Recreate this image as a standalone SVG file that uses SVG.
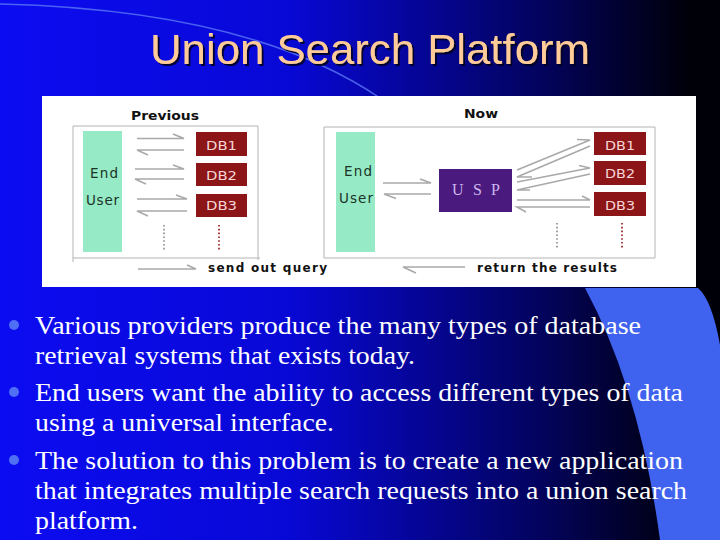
<svg xmlns="http://www.w3.org/2000/svg" width="720" height="540" viewBox="0 0 720 540">
<defs>
<linearGradient id="bg" x1="0" y1="0" x2="1" y2="0">
<stop offset="0" stop-color="#0C0CF2"/>
<stop offset="0.4" stop-color="#0808D6"/>
<stop offset="0.75" stop-color="#03035E"/>
<stop offset="0.96" stop-color="#000008"/>
</linearGradient>
<filter id="sh" x="-5%" y="-20%" width="110%" height="140%">
<feDropShadow dx="2" dy="2" stdDeviation="0.6" flood-color="#000022" flood-opacity="0.9"/>
</filter>
<style>
.title{font-family:"Liberation Sans",Arial,sans-serif;font-size:43px;fill:#FFCC99}
.bul{font-family:"Liberation Serif","Times New Roman",serif;font-size:26px;fill:#FFFFFF}
.dot{fill:#4F6FF5}
.lbl{font-family:"DejaVu Sans",Verdana,sans-serif;font-size:12px;font-weight:bold;fill:#111111}
.eu{fill:#96EBC6}
.eut{font-family:"DejaVu Sans",Verdana,sans-serif;font-size:13.5px;fill:#1A3326}
.db{fill:#8C1518}
.dbt{font-family:"DejaVu Sans",Verdana,sans-serif;font-size:12px;fill:#F6D6D6}
.usp{fill:#4A1A7E}
.uspt{font-family:"Liberation Serif","Times New Roman",serif;font-size:16px;fill:#CDB5EE}
.frame{fill:none;stroke:#B4B4B4;stroke-width:1}
.arr{fill:none;stroke:#A9A9A9;stroke-width:1.6;stroke-linejoin:miter}
.dg{stroke:#8A8A8A;stroke-width:1.6;stroke-dasharray:1.6 2.2}
.dr{stroke:#8C1518;stroke-width:1.6;stroke-dasharray:1.6 2.2}
</style>
</defs>
<rect width="720" height="540" fill="url(#bg)"/>
<path d="M0,4 Q250,10 380,98" fill="none" stroke="#5A78F4" stroke-width="1.5" opacity="0.8"/>
<path d="M585,288 Q640,390 660,540 L720,540 L720,345 Q712,300 698,288 Z" fill="#3F63EE"/>
<text class="title" x="150" y="64" textLength="440" lengthAdjust="spacingAndGlyphs" filter="url(#sh)">Union Search Platform</text>

<rect x="42" y="96" width="654" height="191" fill="#FFFFFF"/>

<g id="previous-panel">
<path class="frame" d="M73,126 H258 V260 M73,126 V262 M73,258 H260"/>
<text class="lbl" x="131" y="120" textLength="68" lengthAdjust="spacingAndGlyphs">Previous</text>
</g>
<g id="now-panel">
<path class="frame" d="M324,127 H655 V258 H324 Z"/>
<text class="lbl" x="464" y="118" textLength="34" lengthAdjust="spacingAndGlyphs">Now</text>
</g>

<g id="end-user-prev">
<rect class="eu" x="83" y="131" width="39" height="121"/>
<text class="eut" x="90" y="178" textLength="28" lengthAdjust="spacing">End</text>
<text class="eut" x="86" y="205" textLength="33" lengthAdjust="spacing">User</text>
</g>
<g id="db1-prev"><rect class="db" x="196" y="132" width="51" height="24"/><text class="dbt" x="206" y="150" textLength="31" lengthAdjust="spacingAndGlyphs">DB1</text></g>
<g id="db2-prev"><rect class="db" x="196" y="163" width="51" height="23"/><text class="dbt" x="206" y="180" textLength="31" lengthAdjust="spacingAndGlyphs">DB2</text></g>
<g id="db3-prev"><rect class="db" x="196" y="194" width="51" height="23"/><text class="dbt" x="206" y="210" textLength="31" lengthAdjust="spacingAndGlyphs">DB3</text></g>

<g id="end-user-now">
<rect class="eu" x="336" y="132" width="39" height="120"/>
<text class="eut" x="344" y="176" textLength="28" lengthAdjust="spacing">End</text>
<text class="eut" x="339" y="203" textLength="34" lengthAdjust="spacing">User</text>
</g>
<g id="usp"><rect class="usp" x="439" y="169" width="73" height="43"/><text class="uspt" x="452" y="195" textLength="48" lengthAdjust="spacing">U S P</text></g>
<g id="db1-now"><rect class="db" x="594" y="132" width="52" height="23"/><text class="dbt" x="605" y="150" textLength="30" lengthAdjust="spacingAndGlyphs">DB1</text></g>
<g id="db2-now"><rect class="db" x="594" y="161" width="52" height="24"/><text class="dbt" x="605" y="178" textLength="30" lengthAdjust="spacingAndGlyphs">DB2</text></g>
<g id="db3-now"><rect class="db" x="594" y="192" width="52" height="24"/><text class="dbt" x="605" y="210" textLength="30" lengthAdjust="spacingAndGlyphs">DB3</text></g>

<g id="connectors">
<path class="arr" d="M137,138.5 H184 L173,134"/>
<path class="arr" d="M184,150 H137 L148,155"/>
<path class="arr" d="M135,169 H184 L173,165"/>
<path class="arr" d="M184,179 H135 L146,184"/>
<path class="arr" d="M137,199 H187 L176,195"/>
<path class="arr" d="M187,211 H137 L148,216"/>
<path class="arr" d="M383,183 H431 L420,179"/>
<path class="arr" d="M431,194 H384 L396,198.5"/>
<path class="arr" d="M517,170 L590,140 L577,139.5"/>
<path class="arr" d="M590,146 L517,177 L532,177"/>
<path class="arr" d="M517,182 L590,168 L579,165.5"/>
<path class="arr" d="M590,174 L517,190 L530,190"/>
<path class="arr" d="M517,200 H590 L582,196"/>
<path class="arr" d="M590,207 H517 L526,212"/>
<line class="dg" x1="164" y1="225" x2="164" y2="250"/>
<line class="dr" x1="219" y1="225" x2="219" y2="250"/>
<line class="dg" x1="557" y1="223" x2="557" y2="248"/>
<line class="dr" x1="622" y1="223" x2="622" y2="248"/>
<path class="arr" d="M138,269 H196 L187,265"/>
<path class="arr" d="M465,267 H403 L416,273"/>
</g>
<text class="lbl" x="208" y="272" textLength="119" lengthAdjust="spacing">send out query</text>
<text class="lbl" x="477" y="272" textLength="140" lengthAdjust="spacing">return the results</text>

<g id="bullets">
<circle class="dot" cx="14" cy="325" r="5"/>
<circle class="dot" cx="14" cy="392" r="5"/>
<circle class="dot" cx="14" cy="460" r="5"/>
<text class="bul" x="35" y="334" textLength="606" lengthAdjust="spacingAndGlyphs">Various providers produce the many types of database</text>
<text class="bul" x="35" y="364" textLength="380" lengthAdjust="spacingAndGlyphs">retrieval systems that exists today.</text>
<text class="bul" x="35" y="401" textLength="648" lengthAdjust="spacingAndGlyphs">End users want the ability to access different types of data</text>
<text class="bul" x="35" y="431" textLength="299" lengthAdjust="spacingAndGlyphs">using a universal interface.</text>
<text class="bul" x="35" y="469" textLength="648" lengthAdjust="spacingAndGlyphs">The solution to this problem is to create a new application</text>
<text class="bul" x="35" y="499" textLength="652" lengthAdjust="spacingAndGlyphs">that integrates multiple search requests into a union search</text>
<text class="bul" x="35" y="529" textLength="103" lengthAdjust="spacingAndGlyphs">platform.</text>
</g>
</svg>
